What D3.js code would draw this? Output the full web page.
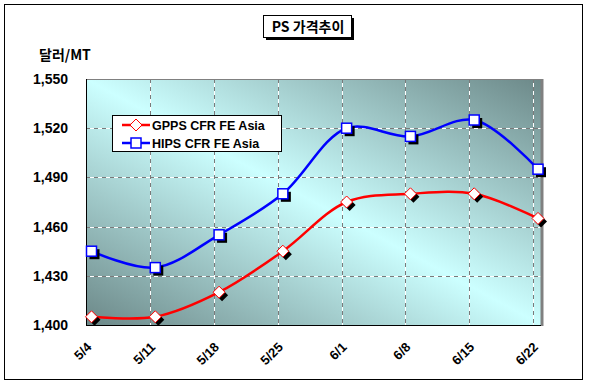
<!DOCTYPE html>
<html>
<head>
<meta charset="utf-8">
<script src="https://cdn.jsdelivr.net/npm/d3@7"></script>
<style>
  body { margin: 0; background: #fff; }
  text { font-family: "Liberation Sans", Arial, sans-serif; }
</style>
</head>
<body>
<script>
const categories = ["5/4", "5/11", "5/18", "5/25", "6/1", "6/8", "6/15", "6/22"];
const gpps = [1405, 1405, 1420, 1445, 1475, 1480, 1480, 1465];
const hips = [1445, 1435, 1455, 1480, 1520, 1515, 1525, 1495];
const yTicks = [1400, 1430, 1460, 1490, 1520, 1550];
const seriesNames = ["GPPS CFR FE Asia", "HIPS CFR FE Asia"];

const width = 589, height = 388;
const plot = { left: 86, top: 79, right: 542, bottom: 325 };
const markOffset = 5;

const svg = d3.select("body").append("svg")
  .attr("width", width)
  .attr("height", height);

// outer frame
svg.append("rect")
  .attr("x", 4.5).attr("y", 4.5)
  .attr("width", 578).attr("height", 375)
  .attr("fill", "#fff").attr("stroke", "#000");

const defs = svg.append("defs");
const grad = defs.append("linearGradient")
  .attr("id", "bg")
  .attr("x1", 0).attr("y1", 1).attr("x2", 1).attr("y2", 0);
grad.append("stop").attr("offset", "0%").attr("stop-color", "#6c8888");
grad.append("stop").attr("offset", "50%").attr("stop-color", "#ccffff");
grad.append("stop").attr("offset", "100%").attr("stop-color", "#6c8888");

const x = d3.scalePoint().domain(categories).range([plot.left + 0.5, 533]);
const y = d3.scaleLinear().domain([1400, 1550]).range([plot.bottom, plot.top]);

// plot area
svg.append("rect")
  .attr("x", plot.left).attr("y", plot.top)
  .attr("width", plot.right - plot.left).attr("height", plot.bottom - plot.top)
  .attr("fill", "url(#bg)");

// gridlines (two-tone dashes)
const grid = svg.append("g");
function gridLine(x1, y1, x2, y2) {
  grid.append("line").attr("x1", x1).attr("y1", y1).attr("x2", x2).attr("y2", y2)
    .attr("stroke", "#ffffff").attr("stroke-dasharray", "4,4").attr("stroke-dashoffset", 4);
  grid.append("line").attr("x1", x1).attr("y1", y1).attr("x2", x2).attr("y2", y2)
    .attr("stroke", "#7a7a7a").attr("stroke-dasharray", "4,4");
}
yTicks.slice(1, -1).forEach(t => gridLine(plot.left, Math.round(y(t)) + 0.5, plot.right, Math.round(y(t)) + 0.5));
categories.slice(1).forEach(c => gridLine(Math.round(x(c)) + 0.5, plot.top, Math.round(x(c)) + 0.5, plot.bottom));

// plot border
svg.append("line").attr("x1", plot.left).attr("x2", plot.right).attr("y1", plot.top + 0.5).attr("y2", plot.top + 0.5)
  .attr("stroke", "#808080");
svg.append("line").attr("x1", plot.right).attr("x2", plot.right).attr("y1", plot.top).attr("y2", plot.bottom + 1)
  .attr("stroke", "#808080").attr("stroke-width", 3);
svg.append("line").attr("x1", plot.left + 0.5).attr("x2", plot.left + 0.5).attr("y1", plot.top).attr("y2", plot.bottom + 1)
  .attr("stroke", "#000");
svg.append("line").attr("x1", plot.left).attr("x2", plot.right - 1).attr("y1", plot.bottom + 0.5).attr("y2", plot.bottom + 0.5)
  .attr("stroke", "#000");

// y axis labels
svg.append("g").selectAll("text")
  .data(yTicks)
  .join("text")
  .attr("x", 68)
  .attr("y", d => y(d))
  .attr("dy", "0.36em")
  .attr("text-anchor", "end")
  .attr("font-size", 14)
  .attr("font-weight", "bold")
  .text(d => d3.format(",")(d));

svg.append("text")
  .attr("x", 39).attr("y", 60)
  .attr("font-size", 14).attr("font-weight", "bold")
  .style("font-family", "'Noto Sans CJK KR', 'Liberation Sans', sans-serif")
  .text("달러/MT");

// x axis labels
svg.append("g").selectAll("text")
  .data(categories)
  .join("text")
  .attr("transform", d => `translate(${x(d) - 1},${341}) rotate(-45)`)
  .attr("text-anchor", "end")
  .attr("dy", "0.75em")
  .attr("font-size", 13)
  .attr("font-weight", "bold")
  .text(d => d);

// series
const line = d3.line()
  .x((d, i) => x(categories[i]) + markOffset)
  .y(d => y(d))
  .curve(d3.curveCatmullRom.alpha(0.5));

const series = [
  { values: gpps, color: "#ff0000", marker: "diamond" },
  { values: hips, color: "#0000ff", marker: "square" }
];

function drawMarker(g, type, cx, cy, color, shadow) {
  if (type === "diamond") {
    const s = 6;
    if (shadow) {
      g.append("path")
        .attr("d", `M${cx + 3},${cy + 3 - s}L${cx + 3 + s},${cy + 3}L${cx + 3},${cy + 3 + s}L${cx + 3 - s},${cy + 3}Z`)
        .attr("fill", "#000");
    }
    g.append("path")
      .attr("d", `M${cx},${cy - s}L${cx + s},${cy}L${cx},${cy + s}L${cx - s},${cy}Z`)
      .attr("fill", "#fff").attr("stroke", color).attr("stroke-width", 1);
  } else {
    const s = 5;
    if (shadow) {
      g.append("rect").attr("x", cx - s + 3).attr("y", cy - s + 3)
        .attr("width", 2 * s).attr("height", 2 * s).attr("fill", "#000");
    }
    g.append("rect").attr("x", cx - s).attr("y", cy - s)
      .attr("width", 2 * s).attr("height", 2 * s)
      .attr("fill", "#fff").attr("stroke", color).attr("stroke-width", 1.5);
  }
}

series.forEach(s => {
  svg.append("path")
    .datum(s.values)
    .attr("d", line)
    .attr("fill", "none")
    .attr("stroke", s.color)
    .attr("stroke-width", 2.5);
  const g = svg.append("g");
  s.values.forEach((v, i) => {
    drawMarker(g, s.marker, x(categories[i]) + markOffset, y(v), s.color, true);
  });
});

// legend
const legend = svg.append("g");
legend.append("rect")
  .attr("x", 112.5).attr("y", 115.5)
  .attr("width", 169).attr("height", 36)
  .attr("fill", "#fff").attr("stroke", "#000");
series.forEach((s, i) => {
  const ly = 125 + i * 18;
  legend.append("line")
    .attr("x1", 122).attr("x2", 150).attr("y1", ly).attr("y2", ly)
    .attr("stroke", s.color).attr("stroke-width", 2.5);
  drawMarker(legend, s.marker, 136, ly, s.color, false);
  legend.append("text")
    .attr("x", 152).attr("y", ly).attr("dy", "0.36em")
    .attr("font-size", 12.5).attr("font-weight", "bold")
    .text(seriesNames[i]);
});

// title
const title = svg.append("g");
title.append("rect")
  .attr("x", 266).attr("y", 18).attr("width", 88).attr("height", 22).attr("fill", "#000");
title.append("rect")
  .attr("x", 263.5).attr("y", 15.5).attr("width", 88).attr("height", 22)
  .attr("fill", "#fff").attr("stroke", "#000");
title.append("text")
  .attr("x", 308).attr("y", 27).attr("dy", "0.36em")
  .attr("text-anchor", "middle")
  .attr("font-size", 14).attr("font-weight", "bold")
  .style("font-family", "'Noto Sans CJK KR', 'Liberation Sans', sans-serif")
  .text("PS 가격추이");
</script>
</body>
</html>
